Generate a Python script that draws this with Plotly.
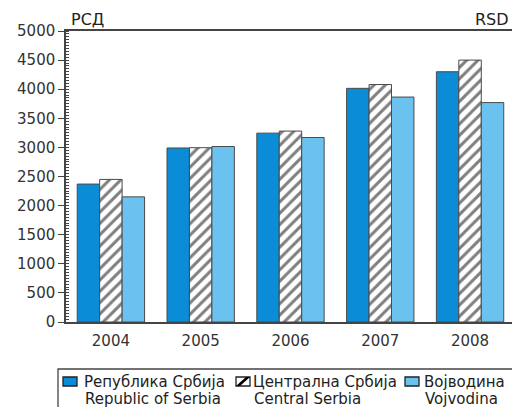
import plotly.graph_objects as go

# Average monthly amounts, RSD
years = ["2004", "2005", "2006", "2007", "2008"]
republic_of_serbia = [2370, 2990, 3245, 4015, 4300]
central_serbia = [2450, 2995, 3280, 4080, 4500]
vojvodina = [2150, 3015, 3170, 3865, 3770]

names_sr = ["Република Србија", "Централна Србија", "Војводина"]
names_en = ["Republic of Serbia", "Central Serbia", "Vojvodina"]
y_ticks = [0, 500, 1000, 1500, 2000, 2500, 3000, 3500, 4000, 4500, 5000]

FONT = "DejaVu Sans, Liberation Sans, Arial, sans-serif"
OUTLINE = dict(color="#4a4a4a", width=1)
C_REPUBLIC = "#0a8cd6"
C_VOJVODINA = "#6cc2ee"

W, H = 512, 407
L, T, B = 66, 31, 85
plot_w, plot_h = W - L, H - T - B


def px_x(px):
    return (px - L) / plot_w


def px_y(py):
    return (H - B - py) / plot_h


fig = go.Figure()
fig.add_trace(go.Bar(
    x=years, y=republic_of_serbia, name=names_sr[0],
    marker=dict(color=C_REPUBLIC, line=OUTLINE),
))
fig.add_trace(go.Bar(
    x=years, y=central_serbia, name=names_sr[1],
    marker=dict(color="white", line=OUTLINE,
                pattern=dict(shape="/", fgcolor="black", bgcolor="white",
                             size=8, solidity=0.38, fillmode="overlay")),
))
fig.add_trace(go.Bar(
    x=years, y=vojvodina, name=names_sr[2],
    marker=dict(color=C_VOJVODINA, line=OUTLINE),
))

# legend: frame, swatches and two-line labels
fig.add_shape(type="rect", xref="paper", yref="paper",
              x0=px_x(58), x1=px_x(530), y0=px_y(369), y1=px_y(430),
              line=dict(color="#444", width=1.3), fillcolor="rgba(0,0,0,0)")

swatch_left = [63, 236, 405]
text_left = [82, 251, 422]
sw_top, sw_bot = 377, 386
for i in range(3):
    x0, x1 = swatch_left[i], swatch_left[i] + 14
    if i == 1:
        fig.add_shape(type="rect", xref="paper", yref="paper",
                      x0=px_x(x0), x1=px_x(x1), y0=px_y(sw_bot), y1=px_y(sw_top),
                      line=dict(color="#222", width=1.3), fillcolor="white")
        fig.add_shape(type="path", xref="paper", yref="paper",
                      path=(f"M {px_x(x0)} {px_y(sw_bot)} L {px_x(x1 - 4)} {px_y(sw_top)} "
                            f"L {px_x(x1)} {px_y(sw_top)} L {px_x(x0 + 4)} {px_y(sw_bot)} Z"),
                      line=dict(width=0), fillcolor="black")
    else:
        fig.add_shape(type="rect", xref="paper", yref="paper",
                      x0=px_x(x0), x1=px_x(x1), y0=px_y(sw_bot), y1=px_y(sw_top),
                      line=dict(color="#222", width=1.3),
                      fillcolor=C_REPUBLIC if i == 0 else C_VOJVODINA)
    fig.add_annotation(text=names_sr[i], xref="paper", yref="paper",
                       x=px_x(text_left[i]), y=px_y(382), xanchor="left",
                       yanchor="middle", showarrow=False,
                       font=dict(size=15, color="#222", family=FONT))
    fig.add_annotation(text=names_en[i], xref="paper", yref="paper",
                       x=px_x(text_left[i] + 1), y=px_y(399), xanchor="left",
                       yanchor="middle", showarrow=False,
                       font=dict(size=15, color="#222", family=FONT))

fig.add_annotation(text="РСД", xref="paper", yref="paper",
                   x=px_x(69), y=px_y(20), xanchor="left", yanchor="middle",
                   showarrow=False, font=dict(size=16, color="#222", family=FONT))
fig.add_annotation(text="RSD", xref="paper", yref="paper",
                   x=px_x(511), y=px_y(20), xanchor="right", yanchor="middle",
                   showarrow=False, font=dict(size=16, color="#222", family=FONT))

fig.update_layout(
    width=W, height=H,
    margin=dict(l=L, r=0, t=T, b=B, pad=0, autoexpand=False),
    paper_bgcolor="white", plot_bgcolor="white",
    barmode="group", bargap=0.25, bargroupgap=0,
    font=dict(family=FONT, color="#333", size=15),
    showlegend=False,
)
fig.update_xaxes(
    range=[-0.5, 4.467], showline=True, linecolor="#444", linewidth=1.5,
    mirror=True, ticks="", showgrid=False, zeroline=False,
    ticklabelstandoff=4, tickfont=dict(size=15, color="#333"),
)
fig.update_yaxes(
    range=[0, 5000], tickvals=y_ticks, showline=True, linecolor="#444",
    linewidth=1.5, ticks="outside", ticklen=6, tickcolor="#444",
    showgrid=False, zeroline=False, tickfont=dict(size=15, color="#333"),
    minor=dict(ticks="inside", dtick=50, ticklen=3, tickcolor="#444",
               showgrid=False),
)

fig.write_html("out.html")
